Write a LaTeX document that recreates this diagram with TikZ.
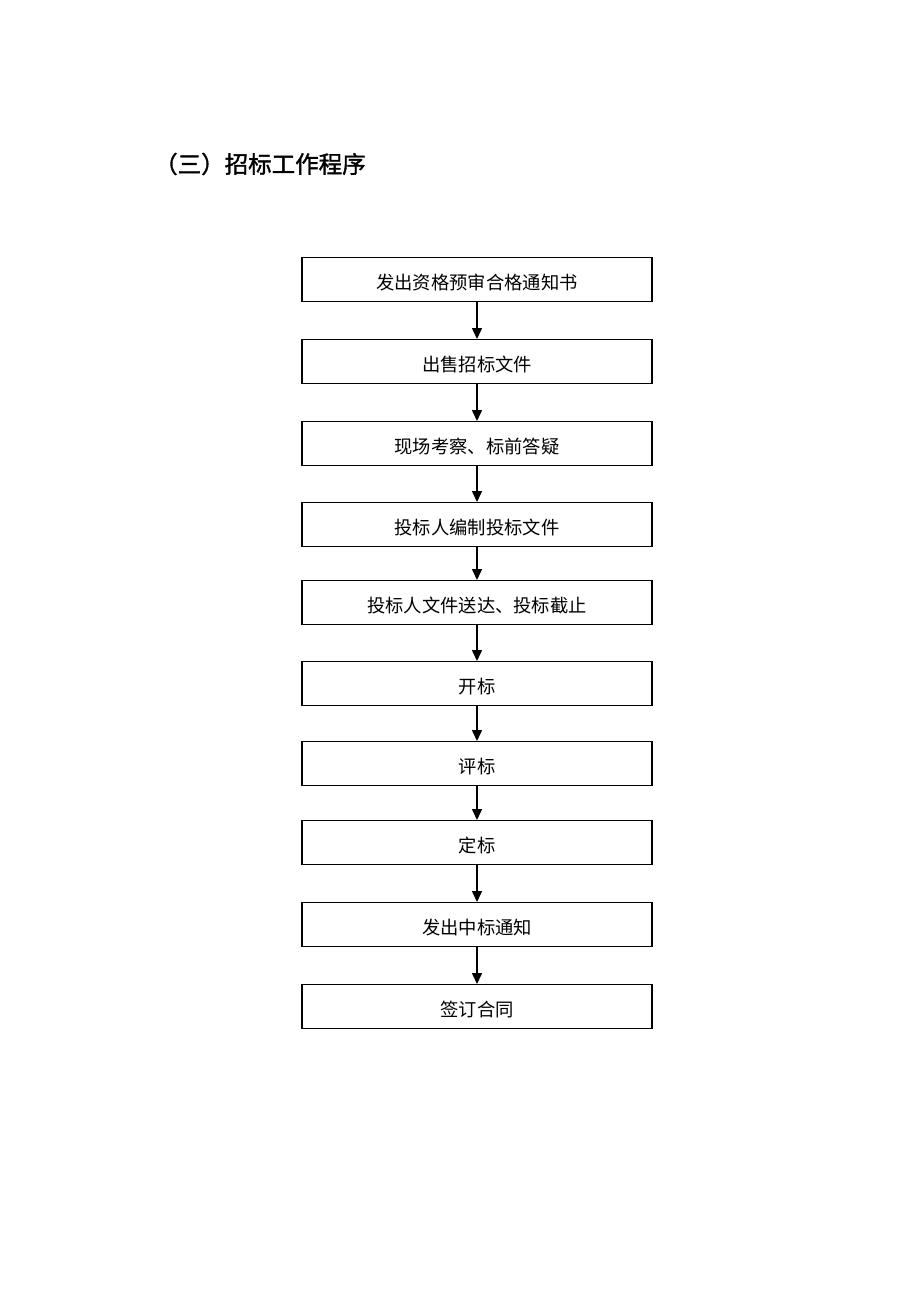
\documentclass[tikz,border=0pt]{standalone}
\usepackage{fontspec}
\setmainfont{Noto Sans CJK SC}
\newfontfamily\cjkbold[FakeBold=1.5]{Noto Sans CJK SC}
\usetikzlibrary{arrows.meta}
\tikzset{
  stepbox/.style={draw, line width=1.3pt, minimum width=350pt, minimum height=44pt, inner sep=0pt, text height=20pt, text depth=0pt, font=\fontsize{18.3pt}{20pt}\selectfont, anchor=north},
  flowarrow/.style={line width=1.5pt, -{Triangle[length=11pt,width=10pt]}}
}
\begin{document}
\begin{tikzpicture}[x=1pt,y=-1pt]
\useasboundingbox (0,0) rectangle (920,1302);
\node[anchor=west, inner sep=0pt, font=\cjkbold\fontsize{23.5pt}{25pt}\selectfont] (title) at (154,164) {（三）招标工作程序};
\node[stepbox] (b1) at (477,257) {发出资格预审合格通知书};
\node[stepbox] (b2) at (477,339) {出售招标文件};
\node[stepbox] (b3) at (477,421) {现场考察、标前答疑};
\node[stepbox] (b4) at (477,502) {投标人编制投标文件};
\node[stepbox] (b5) at (477,580) {投标人文件送达、投标截止};
\node[stepbox] (b6) at (477,661) {开标};
\node[stepbox] (b7) at (477,741) {评标};
\node[stepbox] (b8) at (477,820) {定标};
\node[stepbox] (b9) at (477,902) {发出中标通知};
\node[stepbox] (b10) at (477,984) {签订合同};
\foreach \a/\b in {b1/b2,b2/b3,b3/b4,b4/b5,b5/b6,b6/b7,b7/b8,b8/b9,b9/b10}
  \draw[flowarrow] (\a.south) -- (\b.north);
\end{tikzpicture}
\end{document}
